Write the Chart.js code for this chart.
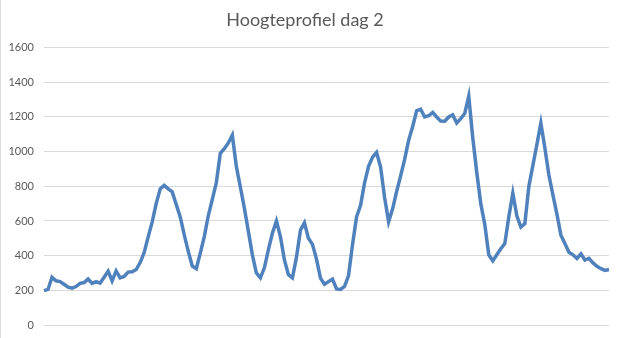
<!DOCTYPE html>
<html>
<head>
<meta charset="utf-8">
<script src="https://cdn.jsdelivr.net/npm/chart.js@4/dist/chart.umd.min.js"></script>
<style>
  html, body { margin: 0; padding: 0; background: #fff; }
  #wrap { width: 620px; height: 338px; border-left: 1px solid #d9d9d9; }
</style>
</head>
<body>
<div id="wrap"><canvas id="myChart" width="620" height="338"></canvas></div>
<script>
// hoogte (m) langs de route, gelijk verdeeld
var hoogte = [
  198, 205, 275, 255, 250, 235, 218, 213, 222, 240,
  245, 265, 240, 250, 242, 275, 310, 255, 312, 272,
  280, 305, 307, 320, 360, 418, 508, 595, 700, 785,
  805, 785, 768, 695, 623, 520, 425, 340, 325, 414,
  510, 630, 725, 820, 990, 1017, 1050, 1095, 915, 796,
  675, 540, 405, 300, 272, 330, 435, 530, 600, 510,
  375, 290, 272, 390, 547, 590, 500, 465, 380, 270,
  235, 250, 265, 208, 205, 222, 285, 465, 623, 691,
  820, 915, 968, 995, 911, 735, 595, 670, 770, 860,
  955, 1065, 1145, 1235, 1245, 1200, 1207, 1226, 1200, 1176,
  1175, 1200, 1212, 1165, 1190, 1220, 1320, 1080, 880, 700,
  580, 405, 370, 405, 440, 470, 625, 760, 630, 565,
  585, 800, 920, 1040, 1165, 1020, 865, 750, 640, 518,
  470, 420, 405, 384, 410, 375, 385, 358, 338, 325,
  315, 320
];
var punten = hoogte.map((h, i) => i + 1);
var titel = "Hoogteprofiel dag 2";

const config = {
  type: "line",
  data: {
    labels: punten,
    datasets: [{
      data: hoogte,
      borderColor: "#4F81BD",
      backgroundColor: "#4F81BD",
      borderWidth: 3.5,
      pointRadius: 0,
      tension: 0,
      fill: false,
    }]
  },
  options: {
    responsive: false,
    animation: false,
    layout: { padding: { left: 0, right: 12, top: 0, bottom: 13 } },
    plugins: {
      legend: { display: false },
      tooltip: { enabled: false },
      title: {
        display: true,
        text: titel,
        color: "#595959",
        font: { family: "Lato", size: 18, weight: "normal" },
        padding: { top: 9, bottom: 17 },
      },
    },
    scales: {
      x: {
        display: false,
        offset: false,
      },
      y: {
        min: 0,
        max: 1600,
        ticks: {
          stepSize: 200,
          color: "#595959",
          font: { family: "Lato", size: 11, lineHeight: 0.5 },
          padding: 10,
          callback: (v) => String(v),
        },
        grid: { color: "#d9d9d9", drawTicks: false },
        border: { display: false },
        afterFit: (s) => { s.width = 43; },
      },
    },
  },
};

new Chart(document.getElementById("myChart"), config);
</script>
</body>
</html>
